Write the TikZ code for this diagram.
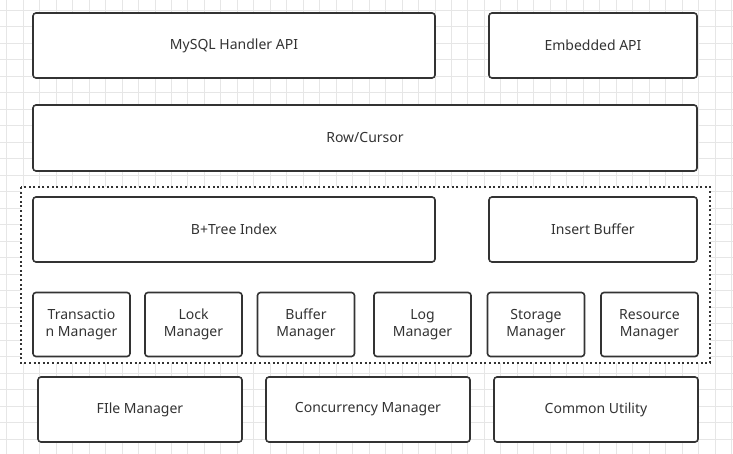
\documentclass[tikz,border=0pt]{standalone}
\usepackage{fontspec}
\setmainfont{Noto Sans}
\definecolor{gridgray}{RGB}{230,230,230}
\definecolor{boxline}{RGB}{51,51,51}
\definecolor{boxtext}{RGB}{51,51,51}
\tikzset{
    module/.style={draw=boxline, line width=1.6pt, rounded corners=3pt, fill=white,
        text=boxtext, font=\fontsize{14}{16.7}\selectfont, align=center,
        inner sep=0pt},
    wide/.style={module, minimum height=65pt},
    small/.style={module, minimum width=97pt, minimum height=64pt}
}
\begin{document}
\begin{tikzpicture}[x=1pt, y=-1pt]
    \useasboundingbox (0, 0) rectangle (733, 454);
    % grid
    \foreach \i in {0,...,44} {
        \draw[gridgray, line width=0.8pt] ({6.7+16.47*\i}, 0) -- ({6.7+16.47*\i}, 454);
    }
    \foreach \j in {0,...,27} {
        \draw[gridgray, line width=0.8pt] (0, {10+16.5*\j}) -- (733, {10+16.5*\j});
    }
    % top
    \node[wide, minimum width=402pt] (handler) at (234, 45.5) {MySQL Handler API};
    \node[wide, minimum width=208pt] (embedded) at (593, 45.5) {Embedded API};
    \node[wide, minimum width=664pt, minimum height=66pt] (cursor) at (365, 138) {Row/Cursor};
    % engine
    \draw[boxline, line width=2pt, dash pattern=on 2pt off 2.6pt, fill=white] (21, 187) rectangle (710, 363);
    \node[wide, minimum width=402pt] (btree) at (234, 229.5) {B+Tree Index};
    \node[wide, minimum width=208pt] (insbuf) at (593, 229.5) {Insert Buffer};
    \node[small] (trx) at (81.5, 324.5) {Transactio\\n Manager};
    \node[small] (lock) at (193.5, 324.5) {Lock\\Manager};
    \node[small] (buffer) at (306, 324.5) {Buffer\\Manager};
    \node[small] (log) at (422.5, 324.5) {Log\\Manager};
    \node[small] (storage) at (536, 324.5) {Storage\\Manager};
    \node[small] (resource) at (649.5, 324.5) {Resource\\Manager};
    % bottom
    \node[wide, minimum width=204pt] (file) at (140, 409.5) {FIle Manager};
    \node[wide, minimum width=204pt] (concur) at (368, 409.5) {Concurrency Manager};
    \node[wide, minimum width=204pt] (common) at (596, 409.5) {Common Utility};
\end{tikzpicture}
\end{document}
